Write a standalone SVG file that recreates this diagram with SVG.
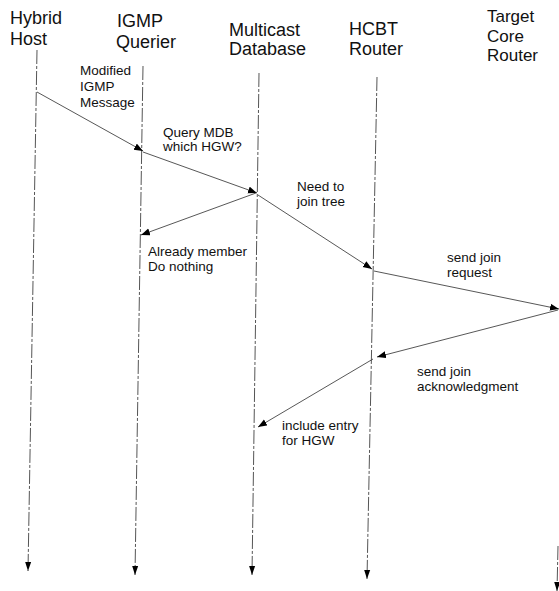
<svg xmlns="http://www.w3.org/2000/svg" width="559" height="591" viewBox="0 0 559 591">
<style>
.hdr{font-family:"Liberation Sans",Arial,Helvetica,sans-serif;font-size:18px;fill:#111}
.hdr2{font-family:"Liberation Sans",Arial,Helvetica,sans-serif;font-size:17px;fill:#111}
.lbl{font-family:"Liberation Sans",Arial,Helvetica,sans-serif;font-size:13.5px;fill:#111}
.life{stroke:#555;stroke-width:1;stroke-dasharray:14 2 3 2;fill:none}
.msg{stroke:#444;stroke-width:0.9;fill:none;marker-end:url(#ah)}
</style>
<defs>
<marker id="ah" markerUnits="userSpaceOnUse" markerWidth="10" markerHeight="8" refX="9" refY="3.5" orient="auto">
<path d="M0,0 L9,3.5 L0,7 z" fill="#000"/>
</marker>
<marker id="ahv" markerUnits="userSpaceOnUse" markerWidth="10" markerHeight="8" refX="9" refY="3.5" orient="auto">
<path d="M0,0.5 L9,3.5 L0,6.5 z" fill="#000"/>
</marker>
</defs>
<rect width="559" height="591" fill="#fff"/>
<g id="hybrid-host">
<text class="hdr" x="10" y="24">Hybrid</text>
<text class="hdr" x="10" y="45">Host</text>
<line class="life" x1="37" y1="50" x2="28" y2="571" marker-end="url(#ahv)"/>
</g>
<g id="igmp-querier">
<text class="hdr" x="117" y="27">IGMP</text>
<text class="hdr" x="116" y="48">Querier</text>
<line class="life" x1="143" y1="66" x2="135" y2="575" marker-end="url(#ahv)"/>
</g>
<g id="multicast-database">
<text class="hdr" x="229" y="36">Multicast</text>
<text class="hdr" x="229" y="55">Database</text>
<line class="life" x1="259" y1="73" x2="252" y2="575" marker-end="url(#ahv)"/>
</g>
<g id="hcbt-router">
<text class="hdr" x="349" y="35">HCBT</text>
<text class="hdr" x="349" y="55">Router</text>
<line class="life" x1="377" y1="77" x2="367" y2="579" marker-end="url(#ahv)"/>
</g>
<g id="target-core-router">
<text class="hdr2" x="487" y="22">Target</text>
<text class="hdr2" x="487" y="41.5">Core</text>
<text class="hdr2" x="487" y="61">Router</text>
<line class="life" x1="558" y1="546" x2="557" y2="591" marker-end="url(#ahv)"/>
</g>
<g id="connectors">
<line class="msg" x1="37" y1="92" x2="143" y2="151"/>
<text class="lbl" x="80" y="75">Modified</text>
<text class="lbl" x="80" y="91">IGMP</text>
<text class="lbl" x="80" y="107">Message</text>
<line class="msg" x1="143" y1="152" x2="257" y2="193"/>
<text class="lbl" x="163" y="137">Query MDB</text>
<text class="lbl" x="163" y="151">which HGW?</text>
<line class="msg" x1="256" y1="193" x2="141" y2="235"/>
<text class="lbl" x="148" y="256">Already member</text>
<text class="lbl" x="148" y="271">Do nothing</text>
<line class="msg" x1="258" y1="195" x2="372" y2="269"/>
<text class="lbl" x="297" y="191">Need to</text>
<text class="lbl" x="297" y="206">join tree</text>
<line class="msg" x1="374" y1="271" x2="559" y2="309"/>
<text class="lbl" x="447" y="262">send join</text>
<text class="lbl" x="447" y="277">request</text>
<line class="msg" x1="558" y1="310" x2="377" y2="357"/>
<text class="lbl" x="417" y="376">send join</text>
<text class="lbl" x="417" y="391">acknowledgment</text>
<line class="msg" x1="373" y1="359" x2="258" y2="427"/>
<text class="lbl" x="282" y="430">include entry</text>
<text class="lbl" x="282" y="445">for HGW</text>
</g>
</svg>
